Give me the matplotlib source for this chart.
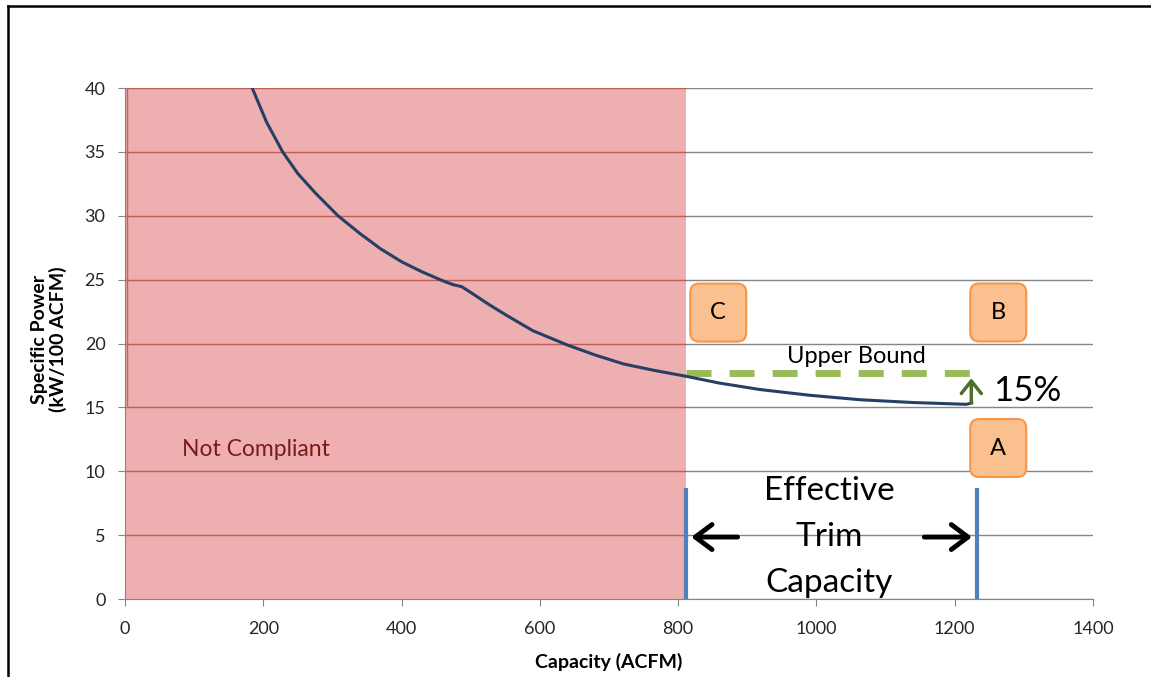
import matplotlib.pyplot as plt
import numpy as np
from matplotlib.patches import Rectangle, FancyBboxPatch
from matplotlib.lines import Line2D

plt.rcParams['font.family'] = ['Lato', 'DejaVu Sans']

# Data
capacity = [184, 205, 228, 250, 275, 308, 340, 370, 400, 430, 460, 475, 487, 500, 525,
            552, 590, 639, 680, 721, 765, 810, 860, 918, 990, 1063, 1140, 1217, 1225]
specific_power = [40.0, 37.3, 35.0, 33.3, 31.8, 30.0, 28.6, 27.4, 26.4, 25.6, 24.9, 24.6,
                  24.45, 24.0, 23.1, 22.2, 21.0, 19.9, 19.1, 18.4, 17.9, 17.45, 16.9, 16.4,
                  15.95, 15.6, 15.38, 15.24, 15.36]
zero_cap = [3, 3]
zero_power = [15.2, 40]
compliance_limit = 811
max_capacity = 1232
upper_bound = 17.66
x_ticks = [0, 200, 400, 600, 800, 1000, 1200, 1400]
y_ticks = [0, 5, 10, 15, 20, 25, 30, 35, 40]

fig = plt.figure(figsize=(11.51, 6.77), dpi=100)
ax = fig.add_axes([0.1086, 0.1152, 0.841, 0.7548])
ax.set_xlim(0, 1400)
ax.set_ylim(0, 40)
ax.set_xticks(x_ticks)
ax.set_yticks(y_ticks)

# gridlines
ax.set_axisbelow(True)
ax.yaxis.grid(True, color='#868686', lw=1)
for s in ['top', 'right']:
    ax.spines[s].set_visible(False)
for s in ['left', 'bottom']:
    ax.spines[s].set_color('#868686')
ax.tick_params(axis='both', length=5, color='#868686', labelsize=13, labelcolor='#262626')
ax.tick_params(axis='y', pad=9)
ax.tick_params(axis='x', pad=11)

# not compliant region
ax.add_patch(Rectangle((0, 0), compliance_limit, 40, facecolor='#EDAFB0', edgecolor='none', zorder=1))
ax.hlines(y_ticks[1:], 0, compliance_limit, color='#C25A55', lw=1, zorder=1.5)
ax.plot(zero_cap, zero_power, color='#D06060', lw=1, zorder=2)
ax.text(83, 11.74, 'Not Compliant', fontsize=16.5, color='#7B1A1A', va='center', ha='left', zorder=3)

# curve
ax.plot(capacity, specific_power, color='#263F66', lw=2.2, zorder=4,
        solid_capstyle='round', solid_joinstyle='round')

# upper bound
ax.plot([compliance_limit, 1227], [upper_bound, upper_bound], color='#9BBB59', lw=5,
        dashes=(3.6, 2.6), zorder=3)
ax.text(1058, 19.0, 'Upper Bound', fontsize=17, ha='center', va='center', zorder=5)
ax.annotate('', xy=(1224, 17.5), xytext=(1224, 15.1),
            arrowprops=dict(arrowstyle='->,head_length=0.5,head_width=0.4', lw=2.5,
                            color='#4F6E2E', mutation_scale=18), zorder=5)
ax.text(1255, 16.3, '15%', fontsize=25, ha='left', va='center', zorder=5)

# trim capacity markers
ax.vlines([compliance_limit, max_capacity], 0, 8.7, color='#4F81BD', lw=3, zorder=5)
ax.text(1019, 4.85, 'Effective\nTrim\nCapacity', fontsize=24, ha='center', va='center',
        linespacing=1.65, zorder=5)
ax.annotate('', xy=(815, 4.85), xytext=(890, 4.85),
            arrowprops=dict(arrowstyle='->,head_length=0.6,head_width=0.45', lw=3.5,
                            color='black', mutation_scale=20), zorder=6)
ax.annotate('', xy=(1229, 4.85), xytext=(1152, 4.85),
            arrowprops=dict(arrowstyle='->,head_length=0.6,head_width=0.45', lw=3.5,
                            color='black', mutation_scale=20), zorder=6)

# labelled boxes
px_x = 968 / 1400.0
px_y = 511 / 40.0
bw, bh = 81, 4.54
for label, cx, cy in [('C', 858, 22.42), ('B', 1263, 22.43), ('A', 1263, 11.82)]:
    box = FancyBboxPatch((cx - bw / 2, cy - bh / 2), bw, bh,
                         boxstyle='round,pad=0,rounding_size=13',
                         mutation_aspect=px_x / px_y,
                         facecolor='#FBC08F', edgecolor='#F79646', lw=1.5, zorder=6)
    ax.add_patch(box)
    ax.text(cx, cy, label, fontsize=17, ha='center', va='center', zorder=7)

ax.set_xlabel('Capacity (ACFM)', fontsize=14, fontweight='bold', labelpad=11)
fig.text(0.0426, 0.499, 'Specific Power\n(kW/100 ACFM)', fontsize=14, fontweight='bold',
         rotation=90, ha='center', va='center', linespacing=1.05)

# outer frame (left and top edges visible)
fig.add_artist(Line2D([8 / 1151, 8 / 1151], [0, 1 - 6 / 677], color='black', lw=1.8))
fig.add_artist(Line2D([8 / 1151, 1], [1 - 6 / 677, 1 - 6 / 677], color='black', lw=1.8))

fig.savefig('out.png', dpi=100)
